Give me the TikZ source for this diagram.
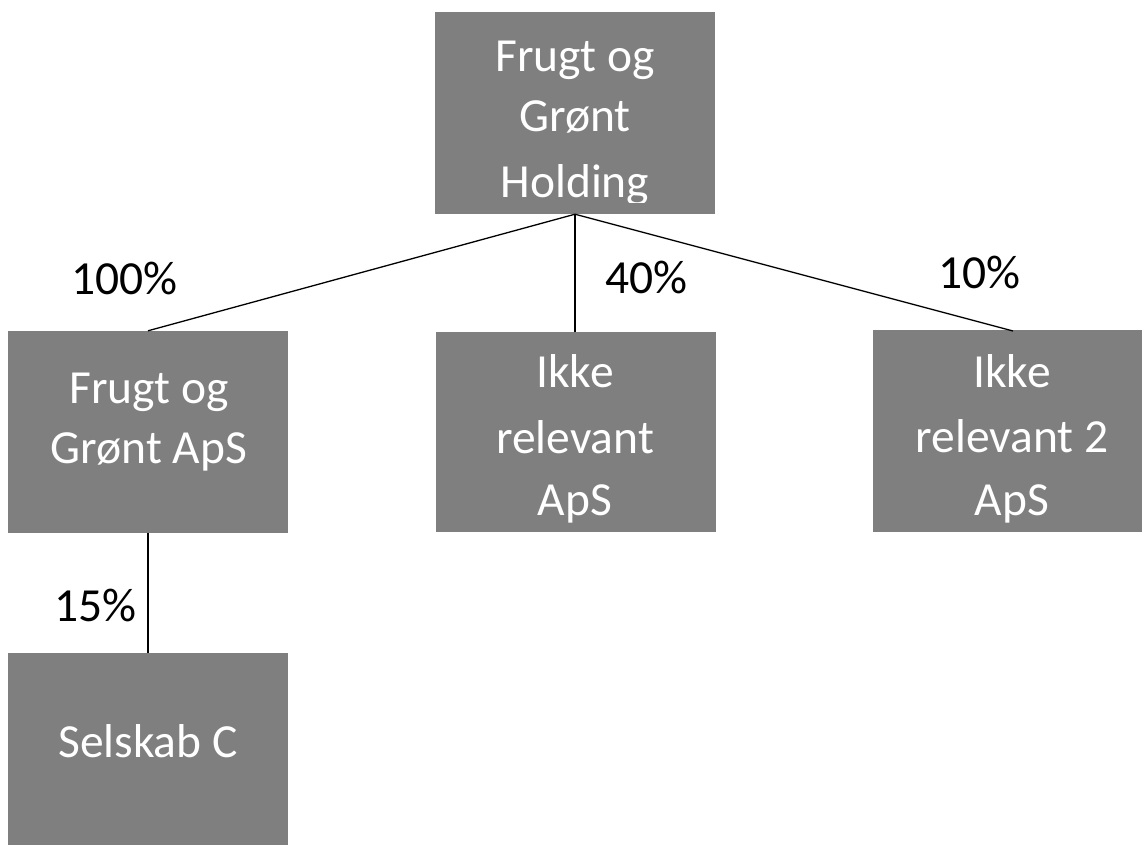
\documentclass[tikz,border=0pt]{standalone}
\usepackage{fontspec}
\setmainfont{Carlito}
\definecolor{boxgray}{HTML}{7F7F7F}
\tikzset{
  orgbox/.style={fill=boxgray, draw=none, inner sep=0pt},
  boxtxt/.style={anchor=base, text=white, inner sep=0pt, font=\fontsize{47.5}{57}\selectfont},
  pct/.style={anchor=base west, text=black, inner sep=0pt, font=\fontsize{47.5}{57}\selectfont},
  link/.style={draw=black, line width=1.3pt}
}
\begin{document}
\begin{tikzpicture}[x=1pt,y=-1pt]
\useasboundingbox (0,0) rectangle (1142,845);
% boxes
\node[orgbox, minimum width=280pt, minimum height=202pt] (hold) at (575,113) {};
\node[orgbox, minimum width=280pt, minimum height=202pt] (fg) at (148,432) {};
\node[orgbox, minimum width=280pt, minimum height=200pt] (ir) at (575.5,432) {};
\node[orgbox, minimum width=269pt, minimum height=202pt] (ir2) at (1007.5,431) {};
\node[orgbox, minimum width=280pt, minimum height=192pt] (sc) at (148,749) {};
% box texts
\begin{scope}
\clip (435,12) rectangle (715,202);
\node[boxtxt] (h1) at (575,72) {Frugt og};
\node[boxtxt] (h2) at (575,132) {Grønt};
\node[boxtxt] (h3) at (575,197) {Holding};
\end{scope}
\node[boxtxt] (f1) at (149,403) {Frugt og};
\node[boxtxt] (f2) at (149,463) {Grønt ApS};
\node[boxtxt] (i1) at (575,387) {Ikke};
\node[boxtxt] (i2) at (575,453) {relevant};
\node[boxtxt] (i3) at (575,515) {ApS};
\node[boxtxt] (j1) at (1012,387) {Ikke};
\node[boxtxt] (j2) at (1012,452) {relevant 2};
\node[boxtxt] (j3) at (1012,515) {ApS};
\node[boxtxt] (s1) at (148,757) {Selskab C};
% connectors
\coordinate (ir2in) at (1013,331);
\draw[link] (hold.south) -- (fg.north);
\draw[link] (hold.south) -- (ir.north -| hold.south);
\draw[link] (hold.south) -- (ir2in);
\draw[link] (fg.south) -- (sc.north);
% percentages
\node[pct] (p100) at (71,294) {100\%};
\node[pct] (p40) at (605,293) {40\%};
\node[pct] (p10) at (938,288) {10\%};
\node[pct] (p15) at (54,621) {15\%};
\end{tikzpicture}
\end{document}
